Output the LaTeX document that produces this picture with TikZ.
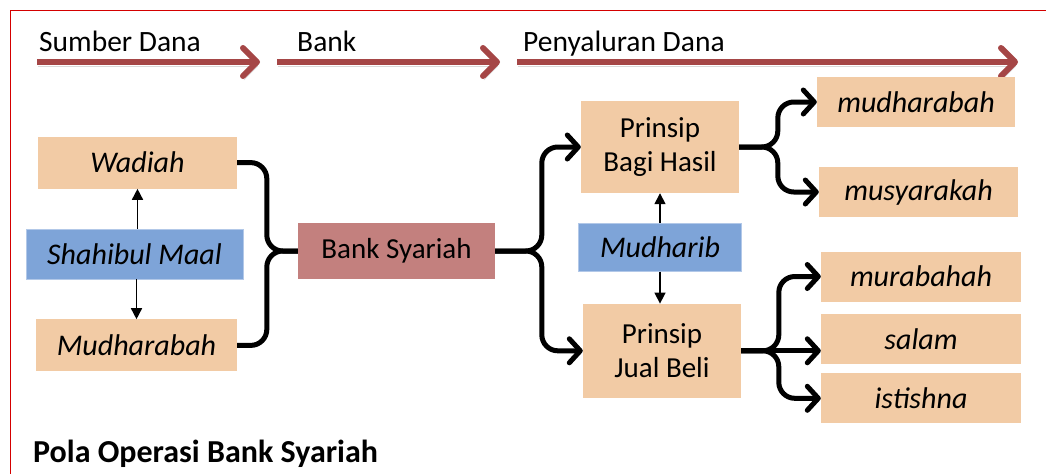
\documentclass[tikz,border=0pt]{standalone}
\usepackage{fontspec}
\setmainfont{Carlito}
\usetikzlibrary{arrows.meta, positioning, calc}
\definecolor{peachfill}{HTML}{F2CBA5}
\definecolor{maalblue}{HTML}{7EA4D8}
\definecolor{bankrose}{HTML}{C3807E}
\definecolor{flowred}{HTML}{A54646}
\definecolor{framered}{HTML}{D40000}

\begin{document}
\begin{tikzpicture}[
   x=1pt, y=1pt, node distance = 40pt and 30pt,
   font=\fontsize{29.5}{34}\selectfont,
   akad/.style    = {rectangle, fill=peachfill, inner sep=0pt, minimum width=200pt,
                     minimum height=50pt, align=center, font=\fontsize{30}{34}\selectfont\itshape},
   prinsip/.style = {rectangle, fill=peachfill, inner sep=0pt, minimum width=158pt,
                     minimum height=92pt, align=center, font=\fontsize{29}{34}\selectfont},
   pihak/.style   = {rectangle, fill=maalblue, draw=maalblue!60!white, inner sep=0pt,
                     minimum height=50pt, align=center, font=\fontsize{30}{34}\selectfont\itshape},
   bankbox/.style = {rectangle, fill=bankrose, inner sep=0pt, minimum width=197pt,
                     minimum height=56pt, align=center, font=\fontsize{29}{34}\selectfont},
   judulalur/.style = {anchor=base west, inner sep=0pt},
   alur/.style    = {-{Straight Barb[length=14pt, width=28pt, round]}, line width=6pt, flowred,
                     preaction={draw=black!15, transform canvas={shift={(1pt,-4pt)}}}},
   kurung/.style  = {line width=5pt, rounded corners=16pt, line join=round},
   kurungpanah/.style = {kurung, -{Straight Barb[length=11pt, width=24pt, round]}},
   tipis/.style   = {-{Triangle[length=11pt, width=11pt]}, line width=1.5pt}]
  \useasboundingbox (0,0) rectangle (1046,-474);
  \draw[framered, line width=1pt] (1046,-10) -- (10,-10) -- (10,-474);

  % alur dana
  \coordinate (s1) at (37,-62);  \coordinate (e1) at (260,-62);
  \coordinate (s2) at (277,-62); \coordinate (e2) at (500,-62);
  \coordinate (s3) at (517,-62); \coordinate (e3) at (1018,-62);
  \draw[alur] (s1) -- (e1);
  \draw[alur] (s2) -- (e2);
  \draw[alur] (s3) -- (e3);
  \node[judulalur] (lsumber) at ([shift={(2,11)}]s1) {Sumber Dana};
  \node[judulalur] (lbank)   at ([shift={(20,11)}]s2) {Bank};
  \node[judulalur] (lsalur)  at ([shift={(6,11)}]s3) {Penyaluran Dana};

  % sumber dana
  \node[pihak, minimum width=217pt] (maal) at (134.5,-254) {Shahibul Maal};
  \node[akad, minimum width=199pt, minimum height=52pt, above=40pt of maal, xshift=3pt] (wadiah) {Wadiah};
  \node[akad, minimum width=201pt, minimum height=52pt, below=40pt of maal, xshift=2pt] (mudh) {Mudharabah};
  \node[bankbox] (bank) at (396.5,-251) {Bank Syariah};

  % penyaluran dana
  \node[prinsip] (bagi) at (660,-147) {Prinsip\\Bagi Hasil};
  \node[pihak, minimum width=163pt, minimum height=48pt, below=30pt of bagi] (mudharib) {Mudharib};
  \node[prinsip, minimum height=94pt, below=32pt of mudharib, xshift=2pt] (jual) {Prinsip\\Jual Beli};

  \node[akad, minimum width=198pt] (mudhb) at (916,-102) {mudharabah};
  \node[akad, minimum width=199pt] (musy)  at (918.5,-192) {musyarakah};
  \node[akad] (murb) at (921,-276.5) {murabahah};
  \node[akad, below=12pt of murb] (salam) {salam};
  \node[akad, below=9pt of salam] (istis) {istishna};

  \draw[tipis] (maal.north -| wadiah.south) -- (wadiah.south);
  \draw[tipis] (maal.south -| mudh.north) -- (mudh.north);
  \draw[tipis] (mudharib.north -| bagi.south) -- (bagi.south);
  \draw[tipis] (mudharib.south) -- (mudharib.south |- jual.north);

  \draw[kurung] (wadiah.east) -| ([xshift=-31pt]bank.west) -- (bank.west);
  \draw[kurung] (mudh.east) -| ([xshift=-31pt]bank.west) -- (bank.west);

  \draw[kurungpanah] (bank.east) -| ([xshift=-39pt]bagi.west) -- (bagi.west);
  \draw[kurungpanah] (bank.east) -| ([xshift=-41pt]jual.west) -- (jual.west);

  \draw[kurungpanah] (bagi.east) -| ([xshift=-39pt]mudhb.west) -- (mudhb.west);
  \draw[kurungpanah] (bagi.east) -| ([xshift=-41pt]musy.west) -- (musy.west);

  \draw[kurungpanah] (jual.east) -| ([xshift=-42pt]murb.west) -- (murb.west);
  \draw[kurungpanah] (jual.east) -- (jual.east -| salam.west);
  \draw[kurungpanah] (jual.east) -| ([xshift=-42pt]istis.west) -- (istis.west);

  \node[anchor=base west, inner sep=0pt, font=\fontsize{32}{38}\selectfont\bfseries] (judul) at (33,-462) {Pola Operasi Bank Syariah};
\end{tikzpicture}
\end{document}
